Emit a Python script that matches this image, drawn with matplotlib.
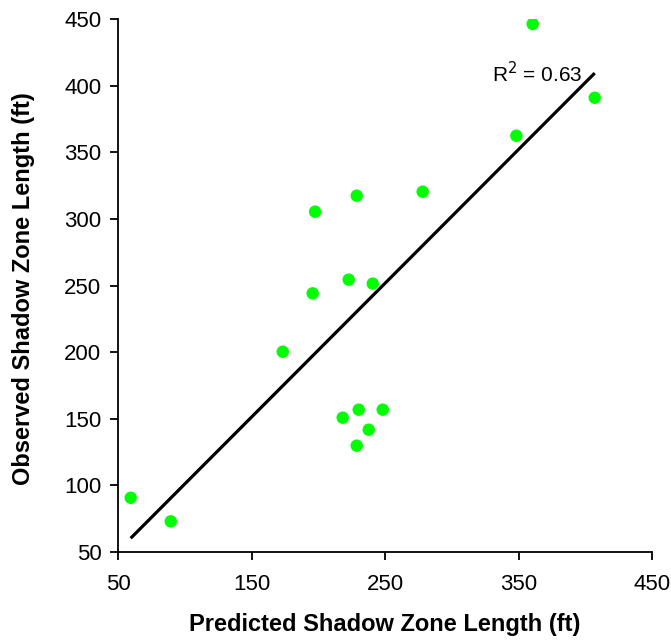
import numpy as np
import matplotlib
matplotlib.use("Agg")
import matplotlib.pyplot as plt

plt.rcParams['font.family'] = ['Liberation Sans', 'DejaVu Sans']

predicted = [59.5, 89.5, 173.4, 195.8, 197.6, 222.8, 228.8, 240.8, 278.2, 348.4,
             360.6, 407.1, 218.3, 230.3, 248.3, 237.8, 228.8]
observed = [90.7, 73.0, 200.3, 244.1, 305.4, 254.4, 317.4, 251.4, 320.4, 362.4,
            446.3, 390.9, 150.8, 156.8, 156.8, 141.8, 129.8]
ticks = [50, 150, 250, 350, 450]
yticks = [50, 100, 150, 200, 250, 300, 350, 400, 450]
r2_label = "R$^2$ = 0.63"

x = np.array(predicted)
y = np.array(observed)
slope, intercept = np.polyfit(x, y, 1)
xl = np.array([x.min(), x.max()])

fig = plt.figure(figsize=(6.71, 6.41), dpi=100)
ax = fig.add_axes([118/671, 1-552/641, (652-118)/671, (552-19)/641])

ax.plot(xl, slope*xl + intercept, color='black', lw=2.3, solid_capstyle='butt', zorder=2)
ax.scatter(x, y, s=80, color='#00FF00', edgecolors='none', zorder=3)

ax.set_xlim(50, 450)
ax.set_ylim(50, 450)
ax.set_xticks(ticks)
ax.set_yticks(yticks)
ax.spines['top'].set_visible(False)
ax.spines['right'].set_visible(False)
for s in ['left', 'bottom']:
    ax.spines[s].set_linewidth(1.3)
ax.tick_params(axis='both', direction='out', length=6, width=1.3, labelsize=16)
ax.tick_params(axis='x', pad=10)
ax.tick_params(axis='y', pad=6)

ax.set_xlabel('Predicted Shadow Zone Length (ft)', fontsize=17, fontweight='bold')
ax.set_ylabel('Observed Shadow Zone Length (ft)', fontsize=17, fontweight='bold')
ax.xaxis.label.set_va('center')
ax.yaxis.label.set_va('center')
ax.yaxis.label.set_ha('center')
ax.xaxis.set_label_coords(0.5, (552-625)/533)
ax.yaxis.set_label_coords((24-118)/534, 0.494)

ax.text(330, 408.7, r2_label, fontsize=15, ha='left', va='center')

fig.savefig('out.png', dpi=100)
